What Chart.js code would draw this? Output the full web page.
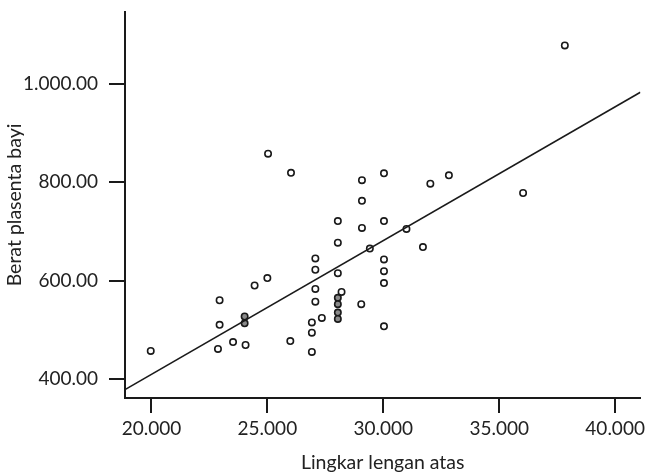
<!DOCTYPE html>
<html>
<head>
<meta charset="utf-8">
<script src="https://cdn.jsdelivr.net/npm/chart.js@4"></script>
<style>
  html, body { margin: 0; padding: 0; background: #fff; }
  #wrap { width: 646px; height: 476px; position: relative; }
</style>
</head>
<body>
<div id="wrap"><canvas id="chart"></canvas></div>
<script>
// Lingkar lengan atas (x) vs Berat plasenta bayi (y)
const armCircumference = [
    19.97, 22.94, 22.94, 22.87, 23.52, 24.06, 24.45, 25.00, 25.99,
    27.07, 27.07, 27.07, 27.07, 26.92, 26.92, 26.92, 27.35,
    28.04, 29.42, 31.71, 30.03, 30.03, 30.03, 28.04, 28.20, 29.05, 30.03,
    37.83, 36.03, 32.83, 32.03, 30.03, 29.08, 29.08, 28.04, 30.03, 29.08, 31.00,
    25.03, 26.02
];
const placentaWeight = [
    457, 560, 510, 461, 475, 469, 590, 605, 477,
    645, 622, 583, 557, 515, 494, 455, 524,
    677, 665, 668, 643, 619, 595, 615, 577, 552, 507,
    1078, 778, 814, 797, 818, 804, 762, 721, 721, 707, 705,
    858, 819
];

// overlapping cases (drawn filled grey)
const overlapX = [24.02, 24.02, 28.04, 28.04, 28.04, 28.04];
const overlapY = [527, 513, 565, 552, 535, 522];

// fit line end points
const fitX = [18.86, 41.09];
const fitY = [378.4, 982.9];

const xTicks = [20, 25, 30, 35, 40];
const xTickLabels = ['20.000', '25.000', '30.000', '35.000', '40.000'];
const yTicks = [400, 600, 800, 1000];
const yTickLabels = ['400.00', '600.00', '800.00', '1.000.00'];

const toPoints = (xs, ys) => xs.map((x, i) => ({ x: x, y: ys[i] }));

const ink = '#1a1a1a';
const fontFamily = 'Lato, "Open Sans", sans-serif';

new Chart(document.getElementById('chart').getContext('2d'), {
    type: 'scatter',
    data: {
        datasets: [
            {
                type: 'line',
                data: toPoints(fitX, fitY),
                borderColor: ink,
                borderWidth: 1.6,
                pointRadius: 0,
                fill: false
            },
            {
                data: toPoints(armCircumference, placentaWeight),
                backgroundColor: '#ffffff',
                borderColor: ink,
                borderWidth: 1.6,
                pointRadius: 3.2
            },
            {
                data: toPoints(overlapX, overlapY),
                backgroundColor: '#8a8a8a',
                borderColor: ink,
                borderWidth: 1.6,
                pointRadius: 3.2
            }
        ]
    },
    options: {
        responsive: true,
        maintainAspectRatio: false,
        animation: false,
        layout: { padding: { top: 12, right: 5, left: 0, bottom: 0 } },
        plugins: {
            legend: { display: false },
            tooltip: { enabled: false }
        },
        scales: {
            x: {
                type: 'linear',
                min: 18.86,
                max: 41.09,
                afterFit: (scale) => {
                    scale.height = 78;
                    scale.paddingLeft = 0;
                    scale.paddingRight = 0;
                },
                afterBuildTicks: (scale) => { scale.ticks = xTicks.map(v => ({ value: v })); },
                border: { display: true, color: ink, width: 2 },
                grid: { drawOnChartArea: false, drawTicks: true, tickLength: 15, color: ink, lineWidth: 2 },
                ticks: {
                    color: '#222',
                    padding: 4,
                    maxRotation: 0,
                    font: { family: fontFamily, size: 19 },
                    callback: (v) => xTickLabels[xTicks.indexOf(v)]
                },
                title: {
                    display: true,
                    text: 'Lingkar lengan atas',
                    color: '#222',
                    font: { family: fontFamily, size: 19.5 },
                    padding: { top: 0, bottom: 2 }
                }
            },
            y: {
                type: 'linear',
                min: 361.3,
                max: 1145.9,
                afterFit: (scale) => {
                    scale.width = 125;
                    scale.paddingTop = 0;
                    scale.paddingBottom = 0;
                },
                afterBuildTicks: (scale) => { scale.ticks = yTicks.map(v => ({ value: v })); },
                border: { display: true, color: ink, width: 2 },
                grid: { drawOnChartArea: false, drawTicks: true, tickLength: 16, color: ink, lineWidth: 2 },
                ticks: {
                    color: '#222',
                    padding: 11,
                    font: { family: fontFamily, size: 19 },
                    callback: (v) => yTickLabels[yTicks.indexOf(v)]
                },
                title: {
                    display: true,
                    text: 'Berat plasenta bayi',
                    color: '#222',
                    font: { family: fontFamily, size: 19.5 },
                    padding: { top: 3, bottom: 0 }
                }
            }
        }
    }
});
</script>
</body>
</html>
